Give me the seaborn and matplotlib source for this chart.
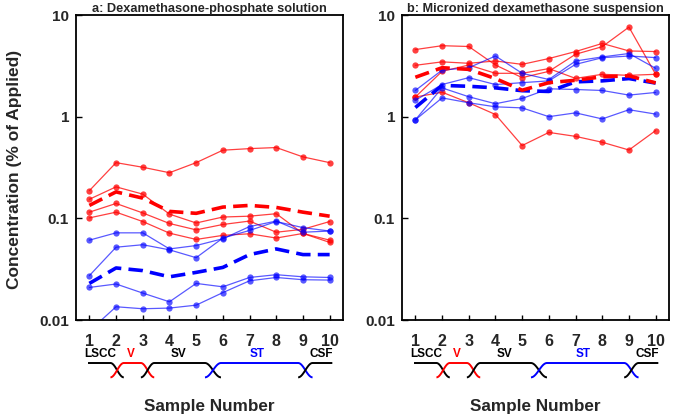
import numpy as np
import pandas as pd
import matplotlib
matplotlib.use("Agg")
import matplotlib.pyplot as plt
from matplotlib.ticker import NullLocator
import seaborn as sns

# ---------------- data ----------------
samples = [1, 2, 3, 4, 5, 6, 7, 8, 9, 10]
y_ticks = [0.01, 0.1, 1, 10]
y_tick_labels = ["0.01", "0.1", "1", "10"]

# panel a: dexamethasone-phosphate solution
a_red_1 = [0.187, 0.353, 0.318, 0.281, 0.353, 0.468, 0.485, 0.497, 0.402, 0.353]
a_red_2 = [0.154, 0.204, 0.173, 0.110, 0.090, 0.103, 0.105, 0.111, 0.071, 0.058]
a_red_3 = [0.115, 0.140, 0.113, 0.089, 0.077, 0.087, 0.094, 0.073, 0.078, 0.093]
a_red_4 = [0.101, 0.115, 0.093, 0.0715, 0.062, 0.068, 0.0705, 0.064, 0.071, 0.061]
a_red_mean = [0.134, 0.182, 0.158, 0.117, 0.112, 0.129, 0.134, 0.128, 0.115, 0.105]
a_blue_1 = [0.061, 0.072, 0.072, 0.050, 0.054, 0.063, 0.083, 0.094, 0.073, 0.075]
a_blue_2 = [0.0273, 0.052, 0.055, 0.049, 0.041, 0.064, 0.076, 0.093, 0.081, 0.075]
a_blue_3 = [0.0209, 0.0226, 0.0184, 0.0151, 0.0229, 0.0212, 0.0262, 0.0279, 0.0266, 0.0262]
a_blue_4 = [0.0078, 0.0135, 0.0129, 0.0131, 0.0140, 0.0186, 0.0243, 0.0262, 0.0249, 0.0247]
a_blue_mean = [0.0229, 0.0325, 0.0306, 0.0266, 0.0294, 0.0329, 0.044, 0.050, 0.044, 0.044]

# panel b: micronized dexamethasone suspension
b_red_1 = [4.57, 4.99, 4.90, 3.22, 2.42, 2.79, 4.11, 4.88, 7.6, 2.61]
b_red_2 = [3.20, 3.46, 3.35, 3.53, 3.27, 3.73, 4.37, 5.25, 4.43, 4.37]
b_red_3 = [1.56, 2.79, 3.22, 2.67, 2.67, 2.97, 2.38, 2.61, 2.55, 2.61]
b_red_4 = [1.56, 1.74, 1.37, 1.05, 0.52, 0.70, 0.64, 0.56, 0.47, 0.73]
b_red_mean = [2.44, 3.03, 2.92, 2.37, 1.82, 2.16, 2.28, 2.47, 2.52, 2.15]
b_blue_1 = [1.81, 2.87, 3.03, 3.95, 2.67, 2.32, 3.53, 3.87, 4.18, 2.99]
b_blue_2 = [1.45, 2.07, 2.42, 2.07, 2.16, 2.25, 3.27, 3.80, 3.95, 3.81]
b_blue_3 = [0.93, 1.92, 1.57, 1.34, 1.51, 1.88, 1.85, 1.81, 1.63, 1.73]
b_blue_4 = [0.93, 1.53, 1.37, 1.25, 1.22, 1.00, 1.09, 0.95, 1.17, 1.06]
b_blue_mean = [1.23, 2.03, 1.99, 1.92, 1.80, 1.77, 2.20, 2.25, 2.37, 2.14]

titles = ["a: Dexamethasone-phosphate solution", "b: Micronized dexamethasone suspension"]

# anatomical regions below the sample axis:
# name, colour, rise start, rise end, fall start, fall end, label x
regions = [
    ("LSCC", "black", None, None, 1.79, 2.29, 1.40),
    ("V", "red", 1.79, 2.29, 2.93, 3.43, 2.56),
    ("SV", "black", 2.93, 3.43, 5.33, 5.93, 4.33),
    ("ST", "blue", 5.33, 5.93, 8.82, 9.36, 7.30),
    ("CSF", "black", 8.82, 9.36, None, None, 9.70),
]
region_ends = (0.95, 10.10)

# ---------------- style ----------------
sns.set_theme(style="white")
plt.rcParams["font.family"] = ["Liberation Sans", "DejaVu Sans"]
plt.rcParams["font.weight"] = "bold"

RED = "#ff0000"
BLUE = "#0000ff"

fig = plt.figure(figsize=(6.75, 4.16), dpi=100)
ax_a = fig.add_axes([76 / 675, 1 - 320 / 416, 267 / 675, 305 / 416])
ax_b = fig.add_axes([402 / 675, 1 - 320 / 416, 267 / 675, 305 / 416])

panels = [
    (ax_a, [a_red_1, a_red_2, a_red_3, a_red_4], a_red_mean,
     [a_blue_1, a_blue_2, a_blue_3, a_blue_4], a_blue_mean),
    (ax_b, [b_red_1, b_red_2, b_red_3, b_red_4], b_red_mean,
     [b_blue_1, b_blue_2, b_blue_3, b_blue_4], b_blue_mean),
]


def draw_region_curves(ax):
    tr = ax.get_xaxis_transform()
    top, low = -0.141, -0.188
    t = np.linspace(0, 1, 40)
    s = (1 - np.cos(np.pi * t)) / 2  # S-shaped, flat at both ends
    for name, col, r0, r1, f0, f1, lx in regions:
        xs, ys = [], []
        if r0 is not None:
            xs += list(r0 + (r1 - r0) * t)
            ys += list(low + (top - low) * s)
        else:
            xs.append(region_ends[0]); ys.append(top)
        if f0 is not None:
            xs += list(f0 + (f1 - f0) * t)
            ys += list(top - (top - low) * s)
        else:
            xs.append(region_ends[1]); ys.append(top)
        ax.plot(xs, ys, color=col, lw=1.4, transform=tr, clip_on=False,
                solid_capstyle="butt")
        ax.text(lx, -0.112, name, color=col, fontsize=8.5, fontweight="bold",
                ha="center", va="center", transform=tr)


for (ax, reds, red_mean, blues, blue_mean), title in zip(panels, titles):
    for ser in reds:
        sns.lineplot(x=samples, y=ser, ax=ax, color=RED, lw=0.9, alpha=0.75,
                     marker="o", markersize=4.5, markeredgewidth=0,
                     markerfacecolor=RED)
    for ser in blues:
        sns.lineplot(x=samples, y=ser, ax=ax, color=BLUE, lw=0.9, alpha=0.65,
                     marker="o", markersize=4.5, markeredgewidth=0,
                     markerfacecolor=BLUE)
    sns.lineplot(x=samples, y=blue_mean, ax=ax, color=BLUE, lw=2.6,
                 linestyle=(0, (4, 2)))
    sns.lineplot(x=samples, y=red_mean, ax=ax, color=RED, lw=2.6,
                 linestyle=(0, (4, 2)))

    ax.set_yscale("log")
    ax.set_ylim(0.01, 10)
    ax.set_xlim(0.5, 10.5)
    ax.set_yticks(y_ticks)
    ax.set_yticklabels(y_tick_labels)
    ax.yaxis.set_minor_locator(NullLocator())
    ax.set_xticks(samples)
    ax.set_xticklabels([str(s) for s in samples])
    ax.tick_params(axis="x", direction="in", length=3.5, width=1, pad=10,
                   labelsize=11.5, color="black", bottom=True)
    ax.tick_params(axis="y", direction="in", length=4, width=1, pad=5,
                   labelsize=11, color="black", left=True)
    for lab in ax.get_xticklabels() + ax.get_yticklabels():
        lab.set_fontweight("bold")
    for sp in ax.spines.values():
        sp.set_visible(True)
        sp.set_color("black")
        sp.set_linewidth(1.3)
    ax.set_xlabel("")
    ax.set_ylabel("")
    ax.grid(False)
    ax.set_title(title, fontsize=9.2, fontweight="bold", pad=2)
    draw_region_curves(ax)

fig.text((76 + 343) / 2 / 675, 1 - 406 / 416, "Sample Number", ha="center",
         va="center", fontsize=12.3, fontweight="bold")
fig.text((402 + 669) / 2 / 675, 1 - 406 / 416, "Sample Number", ha="center",
         va="center", fontsize=12.3, fontweight="bold")
fig.text(15 / 675, 1 - 169 / 416, "Concentration (% of Applied)", rotation=90,
         ha="center", va="center", fontsize=12.5, fontweight="bold")

fig.savefig("out.png", dpi=100)
